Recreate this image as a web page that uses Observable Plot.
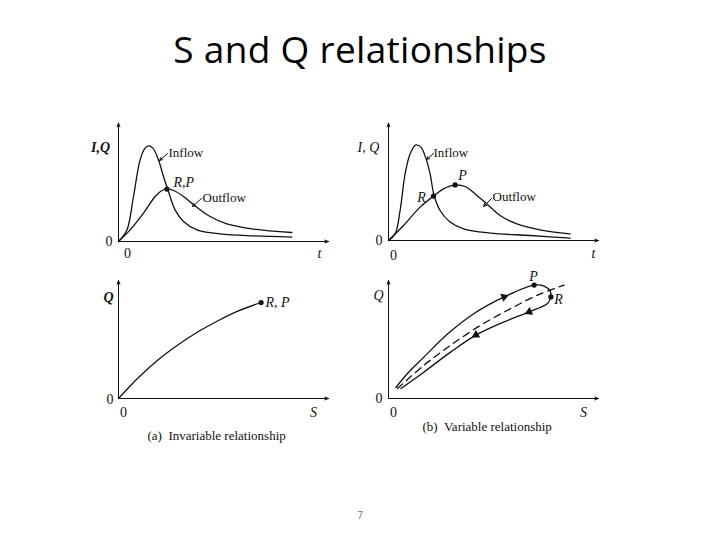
<!DOCTYPE html>
<html>
<head>
<meta charset="utf-8">
<script src="https://cdn.jsdelivr.net/npm/d3@7"></script>
<script src="https://cdn.jsdelivr.net/npm/@observablehq/plot@0.6"></script>
<style>
  html, body { margin: 0; padding: 0; background: #fff; }
  #page { position: relative; width: 720px; height: 540px; overflow: hidden; background: #fff; }
  #title { position: absolute; left: 0; top: 30px; width: 720px; text-align: center;
           font-family: "Open Sans", sans-serif; font-size: 37px; line-height: 37px; letter-spacing: 0.3px; color: #000; }
  #pnum { position: absolute; left: 0; top: 508px; width: 720px; text-align: center;
          font-family: "Open Sans", sans-serif; font-size: 10px; color: #777; }
  .panel { position: absolute; }
</style>
</head>
<body>
<div id="page">
  <div id="title">S and Q relationships</div>
  <div id="pnum">7</div>
</div>
<script>
// ---------- data (abstract units; t / S on x, I / Q on y) ----------
// (a) top: hydrographs
const aInflowT  = [0, 0.42, 0.75, 1.08, 1.33, 1.5, 1.72, 2.0, 2.25, 2.5, 2.83, 3.25, 3.92, 5.08, 6.75, 8.67];
const aInflowI  = [0, 0.58, 2.25, 4.08, 4.67, 4.78, 4.67, 4.08, 3.25, 2.5, 1.58, 1.0, 0.58, 0.38, 0.28, 0.22];
const aOutflowT = [0, 0.58, 1.25, 1.83, 2.17, 2.42, 2.75, 3.25, 3.83, 4.58, 5.42, 6.75, 8.67];
const aOutflowQ = [0, 0.58, 1.42, 2.25, 2.55, 2.62, 2.55, 2.25, 1.78, 1.25, 0.88, 0.62, 0.45];
const aRP = {t: 2.42, q: 2.62};

// (b) top: hydrographs
const bInflowT  = [0, 0.33, 0.58, 0.83, 1.08, 1.37, 1.62, 1.88, 2.08, 2.28, 2.58, 3.08, 3.75, 5.08, 7.08, 9.08];
const bInflowI  = [0, 0.33, 1.5, 3.33, 4.33, 4.78, 4.67, 4.08, 3.33, 2.25, 1.5, 0.92, 0.58, 0.37, 0.25, 0.12];
const bOutflowT = [0, 0.75, 1.58, 2.25, 2.75, 3.33, 3.83, 4.33, 4.92, 5.58, 6.42, 7.58, 9.08];
const bOutflowQ = [0, 0.75, 1.67, 2.22, 2.58, 2.78, 2.7, 2.33, 1.83, 1.25, 0.83, 0.53, 0.33];
const bR = {t: 2.25, q: 2.22};
const bP = {t: 3.33, q: 2.78};

// (a) bottom: single-valued storage-outflow curve
const aS = [0, 1, 2, 3, 4, 5, 6, 7.13];
const aQ = [0, 1.05, 1.95, 2.7, 3.35, 3.9, 4.38, 4.8];

// (b) bottom: loop (rising limb, falling limb) and dashed mean curve
const bRiseS = [0.37, 0.95, 1.78, 2.95, 4.28, 5.78, 7.28, 7.78, 8.08, 8.12];
const bRiseQ = [0.55, 1.25, 2.08, 3.22, 4.25, 5.08, 5.67, 5.62, 5.38, 5.08];
const bFallS = [8.12, 7.95, 7.03, 5.78, 4.37, 3.12, 1.78, 0.62];
const bFallQ = [5.08, 4.75, 4.33, 3.83, 3.17, 2.33, 1.33, 0.5];
const bMeanS = [0.45, 1.78, 3.12, 4.62, 6.12, 7.45, 8.78];
const bMeanQ = [0.5, 1.67, 2.67, 3.67, 4.5, 5.17, 5.67];
const bLoopP = {s: 7.28, q: 5.67};
const bLoopR = {s: 8.12, q: 5.08};
// direction markers on the loop
const bMarkS = [5.78, 7.03, 4.37];
const bMarkQ = [5.08, 4.33, 3.17];
const bMarkAngle = [70, 245, 240];

// ---------- helpers ----------
const zip = (xs, ys) => xs.map((x, i) => ({x, y: ys[i]}));
const SERIF = "Liberation Serif, DejaVu Serif, serif";
const UNIT = 20;

function panel({left, top, width, height, ml, mb, xEnd, yEnd, marks}) {
  const xMax = (width - ml) / UNIT;
  const yMax = (height - mb) / UNIT;
  const chart = Plot.plot({
    width, height,
    marginLeft: ml, marginBottom: mb, marginTop: 0, marginRight: 0,
    x: {domain: [0, xMax], axis: null},
    y: {domain: [0, yMax], axis: null},
    style: {background: "transparent", fontFamily: SERIF, overflow: "visible"},
    marks: [
      Plot.arrow([{x1: 0, y1: 0, x2: 0, y2: yEnd}], {x1: "x1", y1: "y1", x2: "x2", y2: "y2", stroke: "#111", strokeWidth: 1, headLength: 6, headAngle: 40}),
      Plot.arrow([{x1: 0, y1: 0, x2: xEnd, y2: 0}], {x1: "x1", y1: "y1", x2: "x2", y2: "y2", stroke: "#111", strokeWidth: 1, headLength: 6, headAngle: 40}),
      ...marks
    ]
  });
  chart.classList.add("panel");
  chart.style.left = left + "px";
  chart.style.top = top + "px";
  document.getElementById("page").appendChild(chart);
}

const curve = (data, extra = {}) => Plot.line(data, {x: "x", y: "y", curve: "catmull-rom", stroke: "#111", strokeWidth: 1.3, ...extra});
const label = (txt, x, y, extra = {}) => Plot.text([{x, y}], {x: "x", y: "y", text: () => txt, fontSize: 13, fill: "#111", fontFamily: SERIF, ...extra});
const pointer = (x1, y1, x2, y2) => Plot.arrow([{x1, y1, x2, y2}], {x1: "x1", y1: "y1", x2: "x2", y2: "y2", stroke: "#111", strokeWidth: 1, headLength: 5, headAngle: 50});
const dots = (pts) => Plot.dot(pts, {x: "x", y: "y", r: 2.6, fill: "#111", stroke: "none"});

// (a) top
panel({
  left: 80, top: 100, width: 270, height: 170, ml: 38, mb: 29, xEnd: 10.5, yEnd: 5.92,
  marks: [
    curve(zip(aInflowT, aInflowI)),
    curve(zip(aOutflowT, aOutflowQ)),
    dots([{x: aRP.t, y: aRP.q}]),
    label("I,Q", -0.9, 4.7, {fontStyle: "italic", fontWeight: "bold", fontSize: 14}),
    label("Inflow", 2.5, 4.45, {textAnchor: "start"}),
    pointer(2.45, 4.4, 2.05, 4.05),
    label("R,P", 2.75, 2.95, {textAnchor: "start", fontStyle: "italic", fontSize: 14}),
    label("Outflow", 4.2, 2.2, {textAnchor: "start"}),
    pointer(4.15, 2.15, 3.7, 1.75),
    label("0", -0.3, 0, {textAnchor: "end", fontSize: 14}),
    label("0", 0.45, -0.6, {fontSize: 14}),
    label("t", 10.05, -0.6, {fontStyle: "italic", fontSize: 14})
  ]
});

// (b) top
panel({
  left: 350, top: 100, width: 280, height: 170, ml: 38, mb: 30, xEnd: 10.5, yEnd: 5.87,
  marks: [
    curve(zip(bInflowT, bInflowI)),
    curve(zip(bOutflowT, bOutflowQ)),
    dots([{x: bR.t, y: bR.q}, {x: bP.t, y: bP.q}]),
    label("I, Q", -1.0, 4.65, {fontStyle: "italic", fontSize: 14}),
    label("Inflow", 2.25, 4.4, {textAnchor: "start"}),
    pointer(2.25, 4.35, 1.9, 4.05),
    label("P", 3.7, 3.25, {fontStyle: "italic", fontSize: 14}),
    label("R", 1.65, 2.15, {fontStyle: "italic", fontSize: 14}),
    label("Outflow", 5.2, 2.2, {textAnchor: "start"}),
    pointer(5.15, 2.1, 4.75, 1.7),
    label("0", -0.3, 0, {textAnchor: "end", fontSize: 14}),
    label("0", 0.25, -0.75, {fontSize: 14}),
    label("t", 10.25, -0.65, {fontStyle: "italic", fontSize: 14})
  ]
});

// (a) bottom
panel({
  left: 80, top: 270, width: 270, height: 190, ml: 38, mb: 62, xEnd: 10.5, yEnd: 5.9,
  marks: [
    curve(zip(aS, aQ)),
    dots([{x: aS[aS.length - 1], y: aQ[aQ.length - 1]}]),
    label("Q", -0.5, 5.05, {fontStyle: "italic", fontWeight: "bold", fontSize: 14}),
    label("R, P", 7.35, 4.8, {textAnchor: "start", fontStyle: "italic", fontSize: 14}),
    label("0", -0.25, -0.05, {textAnchor: "end", fontSize: 14}),
    label("0", 0.25, -0.7, {fontSize: 14}),
    label("S", 9.75, -0.7, {fontStyle: "italic", fontSize: 14}),
    label("(a)  Invariable relationship", 1.45, -1.85, {textAnchor: "start", fontSize: 13})
  ]
});

// (b) bottom
panel({
  left: 350, top: 270, width: 280, height: 190, ml: 38, mb: 62, xEnd: 10.5, yEnd: 5.9,
  marks: [
    curve(zip(bRiseS, bRiseQ)),
    curve(zip(bFallS, bFallQ)),
    curve(zip(bMeanS, bMeanQ), {strokeDasharray: "7,5"}),
    dots([{x: bLoopP.s, y: bLoopP.q}, {x: bLoopR.s, y: bLoopR.q}]),
    Plot.dot(bMarkS.map((s, i) => ({x: s, y: bMarkQ[i], a: bMarkAngle[i]})),
      {x: "x", y: "y", rotate: "a", symbol: "triangle", r: 3.2, fill: "#111", stroke: "none"}),
    label("Q", -0.5, 5.15, {fontStyle: "italic", fontSize: 14}),
    label("P", 7.25, 6.1, {fontStyle: "italic", fontSize: 14}),
    label("R", 8.5, 4.95, {fontStyle: "italic", fontSize: 14}),
    label("0", -0.3, 0, {textAnchor: "end", fontSize: 14}),
    label("0", 0.25, -0.7, {fontSize: 14}),
    label("S", 9.75, -0.7, {fontStyle: "italic", fontSize: 14}),
    label("(b)  Variable relationship", 1.7, -1.4, {textAnchor: "start", fontSize: 13})
  ]
});
</script>
</body>
</html>
